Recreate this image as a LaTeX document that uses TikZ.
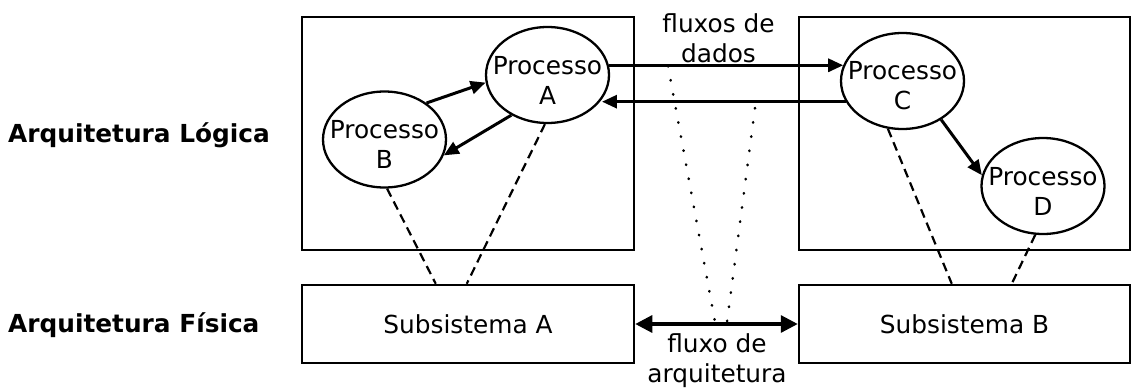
\documentclass[tikz,border=0pt]{standalone}
\usepackage{fontspec}
\setmainfont{DejaVu Sans}
\usetikzlibrary{arrows.meta,calc,shapes.geometric}
\begin{document}
\begin{tikzpicture}[x=1pt,y=-1pt,
  every node/.style={font=\fontsize{24.8}{30}\selectfont, inner sep=0pt},
  frame/.style={draw, line width=2.5pt, rectangle},
  proc/.style={draw, ellipse, line width=2.3pt, minimum width=123pt, minimum height=96pt},
  proctext/.style={yshift=-5pt, align=center, inner sep=0pt},
  flow/.style={line width=3pt, -{Triangle[length=15pt,width=13pt]}},
  archflow/.style={line width=3.2pt, {Triangle[length=17pt,width=17pt]}-{Triangle[length=17pt,width=17pt]}},
  phys/.style={line width=2.2pt, dash pattern=on 9pt off 5.5pt},
  dots/.style={line width=2.6pt, line cap=round, dash pattern=on 0.5pt off 13.8pt},
  lbl/.style={font=\bfseries\fontsize{24.8}{30}\selectfont, anchor=base west}]
\useasboundingbox (0,0) rectangle (1134,388);

% layer labels
\node[lbl] (LL) at (8,142) {Arquitetura Lógica};
\node[lbl] (LF) at (8,332) {Arquitetura Física};

% frames
\node[frame, minimum width=332pt, minimum height=233pt] (BL) at (468,133.5) {};
\node[frame, minimum width=331pt, minimum height=233pt] (BR) at (964.5,133.5) {};
\node[frame, minimum width=332pt, minimum height=78pt] (SA) at (468,324) {Subsistema A};
\node[frame, minimum width=331pt, minimum height=78pt] (SB) at (964.5,324) {Subsistema B};

% processes
\node[proc, label={[proctext]center:Processo\\A}] (A) at (547.5,75) {};
\node[proc, label={[proctext]center:Processo\\B}] (B) at (384.5,139.5) {};
\node[proc, label={[proctext]center:Processo\\C}] (C) at (902.5,81) {};
\node[proc, label={[proctext]center:Processo\\D}] (D) at (1043,186) {};

% text labels
\node[anchor=north, align=center] (FD) at (718.5,13) {fluxos de\\dados};
\node[anchor=north, align=center] (FA) at (717,333.5) {fluxo de\\arquitetura};

% data flows
\draw[flow] (B.41) -- (A.187);
\draw[flow] (A.228) -- (B.-15);
\draw[flow] (A.9) -- (A.9 -| C.165);
\draw[flow] (C.200) -- (C.200 -| A.-24);
\draw[flow] (C.-45) -- (D.170);

% architecture flow
\draw[archflow] (SA.east) -- (SB.west);

% mapping (dashed)
\draw[phys] (B.-87) -- ([xshift=135pt]SA.north west);
\draw[phys] (A.-93) -- ([xshift=166pt]SA.north west);
\draw[phys] (C.-107) -- ([xshift=154pt]SB.north west);
\draw[phys] (D.-99) -- ([xshift=214pt]SB.north west);

% dotted correspondence
\coordinate (d1) at (668,66);
\coordinate (d2) at (715,322);
\coordinate (d3) at (755,108);
\coordinate (d4) at (727,322);
\draw[dots] (d1) -- (d2);
\draw[dots] (d3) -- (d4);
\end{tikzpicture}
\end{document}
